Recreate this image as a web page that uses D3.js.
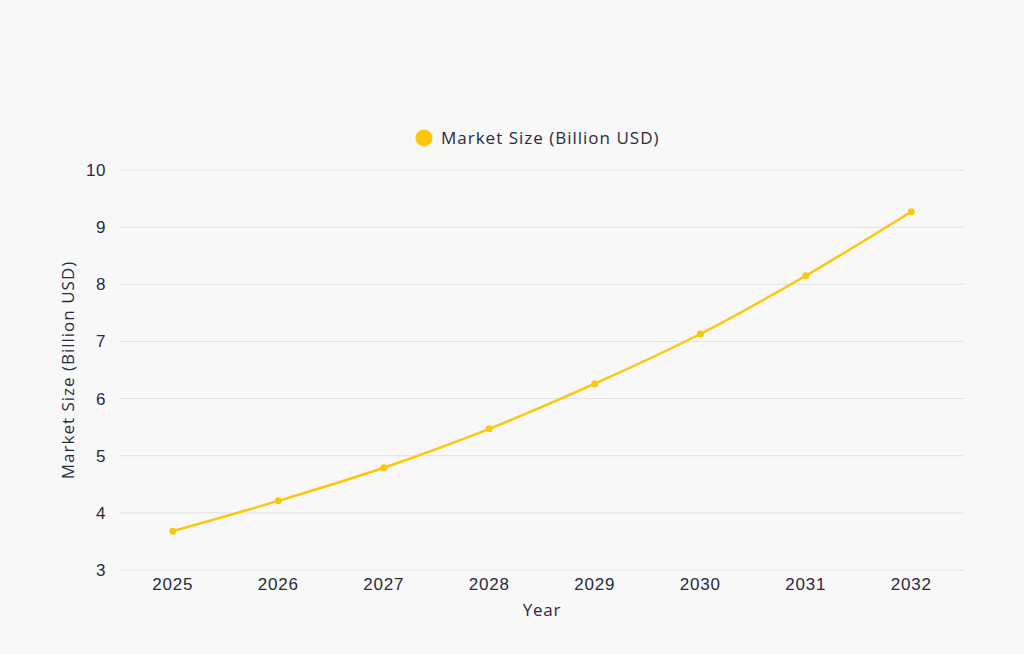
<!DOCTYPE html>
<html>
<head>
<meta charset="utf-8">
<script src="https://cdn.jsdelivr.net/npm/d3@7"></script>
<style>
  body { margin: 0; background: #f8f8f8; }
  svg { display: block; font-family: "Open Sans", Lato, sans-serif; }
</style>
</head>
<body>
<div id="chart"></div>
<script>
// data
const years = ["2025", "2026", "2027", "2028", "2029", "2030", "2031", "2032"];
const marketSize = [3.68, 4.21, 4.79, 5.47, 6.26, 7.13, 8.15, 9.27];
const yTicks = [3, 4, 5, 6, 7, 8, 9, 10];
const seriesName = "Market Size (Billion USD)";

const svgWidth = 1024, svgHeight = 654;
const margin = {top: 170, right: 60, bottom: 84, left: 120};
const width = svgWidth - margin.left - margin.right;
const height = svgHeight - margin.top - margin.bottom;
const gold = "#fcc60d";
const ink = "#2a2a3c";

const svg = d3.select("#chart").append("svg")
    .attr("width", svgWidth)
    .attr("height", svgHeight);

svg.append("rect").attr("width", svgWidth).attr("height", svgHeight).attr("fill", "#f8f8f8");

const g = svg.append("g")
    .attr("transform", "translate(" + margin.left + "," + margin.top + ")");

const xscale = d3.scaleBand().domain(years).range([0, width]);
const yscale = d3.scaleLinear().domain([3, 10]).range([height, 0]);

// gridlines
g.selectAll(".grid")
    .data(yTicks)
    .enter()
    .append("line")
    .attr("x1", 0)
    .attr("x2", width)
    .attr("y1", d => yscale(d))
    .attr("y2", d => yscale(d))
    .attr("stroke", "#e2e2e2")
    .attr("stroke-width", 1);

// y axis
const yAxis = g.append("g")
    .call(d3.axisLeft(yscale).tickValues(yTicks).tickFormat(d3.format("d")).tickSize(0).tickPadding(14));
yAxis.select(".domain").remove();
yAxis.selectAll("text").attr("fill", ink).style("font-size", "17px").style("letter-spacing", "0.6px");

// x axis
const xAxis = g.append("g")
    .attr("transform", "translate(0," + height + ")")
    .call(d3.axisBottom(xscale).tickSize(0).tickPadding(8));
xAxis.select(".domain").remove();
xAxis.selectAll("text").attr("fill", ink).style("font-size", "17px").style("letter-spacing", "0.8px");

// axis titles
svg.append("text")
    .attr("x", margin.left + width / 2)
    .attr("y", 616)
    .attr("text-anchor", "middle")
    .attr("fill", ink)
    .style("font-size", "17px")
    .style("letter-spacing", "0.8px")
    .text("Year");

svg.append("text")
    .attr("transform", "translate(74," + (margin.top + height / 2) + ") rotate(-90)")
    .attr("text-anchor", "middle")
    .attr("fill", ink)
    .style("font-size", "17px")
    .style("letter-spacing", "1px")
    .text(seriesName);

// line
const pts = years.map((y, i) => ({x: y, y: marketSize[i]}));
const line = d3.line()
    .x(d => xscale(d.x) + xscale.bandwidth() / 2)
    .y(d => yscale(d.y))
    .curve(d3.curveMonotoneX);

g.append("path")
    .datum(pts)
    .attr("d", line)
    .attr("fill", "none")
    .attr("stroke", gold)
    .attr("stroke-width", 2.5);

g.selectAll(".dot")
    .data(pts)
    .enter()
    .append("circle")
    .attr("cx", d => xscale(d.x) + xscale.bandwidth() / 2)
    .attr("cy", d => yscale(d.y))
    .attr("r", 3.5)
    .attr("fill", gold);

// legend
const legend = svg.append("g").attr("transform", "translate(424,138)");
legend.append("circle").attr("r", 8.5).attr("fill", gold);
legend.append("text")
    .attr("x", 17)
    .attr("dy", "0.35em")
    .attr("fill", ink)
    .style("font-size", "17px")
    .style("letter-spacing", "1px")
    .text(seriesName);
</script>
</body>
</html>
